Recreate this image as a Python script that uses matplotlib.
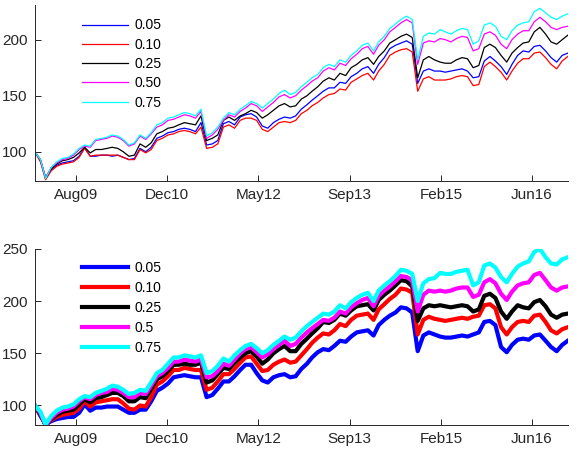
"""Two panels of cumulative index paths for several quantile levels (monthly readings)"""

import numpy as np
import pandas as pd
import matplotlib
matplotlib.use("Agg")
import matplotlib.pyplot as plt
import matplotlib.dates as mdates

plt.rcParams["font.family"] = ["Liberation Sans", "DejaVu Sans"]

# month starts, Jan 2009 .. Jan 2017
dates = pd.date_range("2009-01-01", periods=97, freq="MS")

tick_dates = ["2009-08-15", "2010-12-28", "2012-05-11", "2013-09-23", "2015-02-05", "2016-06-19"]
tick_labels = ["Aug09", "Dec10", "May12", "Sep13", "Feb15", "Jun16"]

top_labels = ["0.05", "0.10", "0.25", "0.50", "0.75"]
bottom_labels = ["0.05", "0.10", "0.25", "0.5", "0.75"]
colors = ["#0000ff", "#ff0000", "#000000", "#ff00ff", "#00ffff"]

# ---- top panel ----
top_005 = [100, 92, 76, 84, 88, 90, 91, 92, 96, 104, 96, 96, 97, 97, 96, 97, 95, 93, 94, 103,
           100, 104, 112, 114, 117, 118, 120, 121, 120, 118, 126, 106, 107, 110, 125, 127, 124, 131, 133, 134,
           131, 123, 121, 126, 129, 131, 130, 132, 138, 142, 146, 150, 154, 157, 157, 162, 161, 167, 170, 174,
           176, 170, 178, 184, 192, 195, 197, 199, 196, 161, 172, 174, 172, 172, 171, 172, 173, 174, 172, 166,
           167, 181, 185, 181, 176, 169, 178, 186, 190, 189, 194, 195, 190, 184, 180, 186, 188]
top_010 = [100, 91, 75, 83, 87, 89, 90, 91, 95, 103, 96, 97, 97, 97, 97, 97, 95, 93, 93, 102,
           99, 102, 110, 112, 115, 116, 118, 119, 118, 116, 122, 103, 104, 107, 122, 124, 121, 128, 130, 130,
           128, 120, 118, 122, 126, 127, 126, 128, 134, 137, 141, 144, 148, 151, 152, 156, 155, 162, 165, 168,
           170, 164, 172, 178, 186, 189, 191, 192, 189, 154, 165, 167, 164, 164, 164, 165, 167, 168, 167, 159,
           160, 176, 180, 176, 171, 164, 172, 179, 183, 183, 188, 189, 184, 178, 174, 181, 185]
top_025 = [100, 93, 77, 85, 89, 92, 93, 95, 99, 104, 99, 102, 102, 103, 104, 103, 100, 96, 97, 107,
           104, 108, 116, 118, 121, 122, 124, 126, 125, 124, 132, 110, 112, 115, 128, 131, 128, 132, 134, 137,
           135, 130, 133, 137, 141, 143, 140, 141, 147, 150, 154, 158, 163, 166, 164, 170, 168, 175, 178, 182,
           184, 178, 185, 190, 197, 200, 203, 205, 202, 166, 182, 185, 182, 180, 179, 179, 182, 184, 183, 175,
           177, 193, 196, 193, 186, 180, 188, 193, 197, 198, 207, 211, 205, 198, 196, 200, 204]
top_050 = [100, 93, 77, 86, 90, 93, 94, 97, 102, 105, 104, 110, 111, 112, 114, 113, 110, 105, 107, 114,
           111, 116, 122, 124, 128, 129, 131, 133, 132, 130, 136, 112, 115, 120, 128, 133, 131, 136, 139, 143,
           141, 136, 140, 144, 149, 151, 148, 150, 155, 159, 163, 166, 172, 175, 173, 179, 177, 183, 187, 192,
           194, 187, 195, 200, 207, 211, 215, 218, 215, 178, 197, 199, 198, 201, 200, 198, 201, 203, 202, 190,
           192, 205, 207, 204, 196, 192, 200, 205, 208, 208, 216, 220, 216, 211, 209, 211, 212]
top_075 = [100, 93, 76, 86, 91, 94, 95, 98, 103, 106, 105, 111, 112, 113, 115, 114, 111, 106, 108, 115,
           112, 117, 124, 126, 130, 131, 133, 135, 134, 132, 138, 114, 117, 122, 130, 135, 133, 138, 141, 145,
           143, 139, 143, 147, 152, 155, 151, 153, 158, 162, 166, 169, 175, 178, 176, 182, 180, 186, 190, 195,
           197, 190, 198, 203, 210, 214, 218, 221, 218, 182, 203, 206, 205, 209, 207, 205, 208, 210, 209, 196,
           199, 213, 215, 212, 203, 200, 208, 213, 215, 216, 225, 228, 224, 220, 218, 221, 223]

# ---- bottom panel ----
bot_005 = [100, 90, 82, 85, 87, 88, 89, 89, 93, 101, 95, 98, 98, 99, 99, 99, 96, 93, 93, 96,
           96, 104, 114, 117, 121, 127, 128, 129, 128, 127, 127, 108, 110, 116, 123, 123, 128, 134, 139, 139,
           131, 124, 122, 127, 129, 130, 127, 128, 135, 140, 146, 151, 154, 153, 157, 162, 161, 166, 170, 171,
           172, 167, 177, 182, 186, 189, 194, 193, 189, 152, 167, 170, 168, 166, 165, 165, 166, 167, 166, 168,
           170, 180, 181, 177, 156, 151, 158, 163, 164, 163, 167, 168, 162, 156, 152, 158, 162]
bot_010 = [100, 91, 82, 86, 89, 91, 92, 93, 97, 104, 99, 103, 104, 105, 106, 106, 102, 97, 96, 100,
           99, 108, 120, 123, 128, 134, 134, 136, 135, 134, 134, 115, 117, 123, 130, 130, 135, 141, 146, 147,
           140, 133, 134, 139, 142, 144, 141, 142, 148, 154, 160, 165, 169, 168, 172, 178, 176, 182, 186, 187,
           188, 182, 192, 197, 202, 206, 212, 211, 208, 168, 182, 185, 183, 182, 181, 182, 183, 184, 183, 185,
           186, 196, 197, 193, 175, 168, 175, 180, 181, 180, 186, 187, 180, 172, 169, 173, 175]
bot_025 = [100, 92, 81, 87, 91, 94, 95, 96, 101, 106, 103, 107, 108, 110, 112, 112, 109, 104, 104, 108,
           107, 116, 125, 128, 133, 139, 139, 140, 139, 139, 141, 122, 124, 130, 136, 135, 141, 146, 150, 152,
           147, 140, 144, 150, 154, 157, 152, 152, 159, 164, 169, 174, 180, 179, 182, 188, 186, 191, 195, 196,
           197, 191, 201, 206, 210, 215, 220, 219, 214, 181, 193, 196, 195, 196, 195, 194, 195, 196, 195, 190,
           192, 205, 207, 203, 190, 183, 190, 196, 194, 193, 199, 201, 195, 187, 184, 187, 188]
bot_050 = [100, 93, 81, 88, 93, 96, 97, 99, 104, 108, 106, 110, 112, 113, 116, 115, 112, 108, 108, 112,
           111, 119, 128, 131, 136, 142, 142, 144, 143, 142, 144, 127, 128, 133, 140, 138, 144, 150, 154, 156,
           151, 146, 149, 154, 158, 162, 157, 159, 165, 170, 174, 178, 182, 181, 184, 190, 188, 194, 198, 201,
           203, 195, 205, 210, 214, 219, 224, 223, 220, 190, 206, 210, 209, 210, 209, 210, 212, 213, 213, 204,
           206, 218, 221, 217, 207, 201, 209, 215, 217, 218, 225, 227, 220, 213, 210, 213, 214]
bot_075 = [100, 94, 82, 90, 95, 98, 99, 101, 106, 109, 108, 112, 114, 116, 119, 118, 115, 111, 112, 115,
           114, 122, 131, 134, 140, 146, 146, 148, 147, 146, 148, 131, 133, 138, 145, 142, 148, 153, 157, 159,
           155, 150, 153, 158, 162, 166, 163, 165, 171, 176, 180, 184, 188, 187, 190, 196, 193, 199, 203, 206,
           208, 200, 210, 215, 219, 224, 230, 229, 226, 200, 217, 221, 222, 227, 226, 226, 228, 229, 230, 215,
           218, 234, 236, 232, 223, 218, 226, 233, 236, 238, 247, 250, 242, 236, 235, 240, 242]


def style_axis(ax, ylim, yticks):
    ax.set_xlim(dates[0], dates[-1])
    ax.set_ylim(*ylim)
    ax.set_yticks(yticks)
    ax.set_xticks(pd.to_datetime(tick_dates))
    ax.set_xticklabels(tick_labels)
    for side in ("top", "right"):
        ax.spines[side].set_visible(False)
    for side in ("left", "bottom"):
        ax.spines[side].set_color("#262626")
        ax.spines[side].set_linewidth(0.7)
    ax.tick_params(direction="in", length=4, width=0.7, colors="#262626",
                   labelsize=11, pad=5)


def main():
    fig = plt.figure(figsize=(5.8, 4.5), dpi=100)
    ax1 = fig.add_axes([0.060, 0.598, 0.919, 0.391])
    ax2 = fig.add_axes([0.060, 0.056, 0.919, 0.391])

    top_series = [top_005, top_010, top_025, top_050, top_075]
    for vals, c, lab in zip(top_series, colors, top_labels):
        ax1.plot(dates, vals, color=c, linewidth=0.9, label=lab)
    style_axis(ax1, (74, 231), [100, 150, 200])

    bot_series = [bot_005, bot_010, bot_025, bot_050, bot_075]
    for vals, c, lab in zip(bot_series, colors, bottom_labels):
        ax2.plot(dates, vals, color=c, linewidth=3.0, label=lab)
    style_axis(ax2, (81.5, 250), [100, 150, 200, 250])

    # legends: no frame, upper left
    ax1.legend(loc="upper left", bbox_to_anchor=(0.088, 0.923), frameon=False,
               fontsize=10, handlelength=3.3, handletextpad=0.5,
               labelspacing=0.38, borderpad=0, borderaxespad=0)
    ax2.legend(loc="upper left", bbox_to_anchor=(0.088, 0.929), frameon=False,
               fontsize=10, handlelength=3.3, handletextpad=0.5,
               labelspacing=0.42, borderpad=0, borderaxespad=0)

    fig.savefig("out.png", dpi=100)


if __name__ == "__main__":
    main()
